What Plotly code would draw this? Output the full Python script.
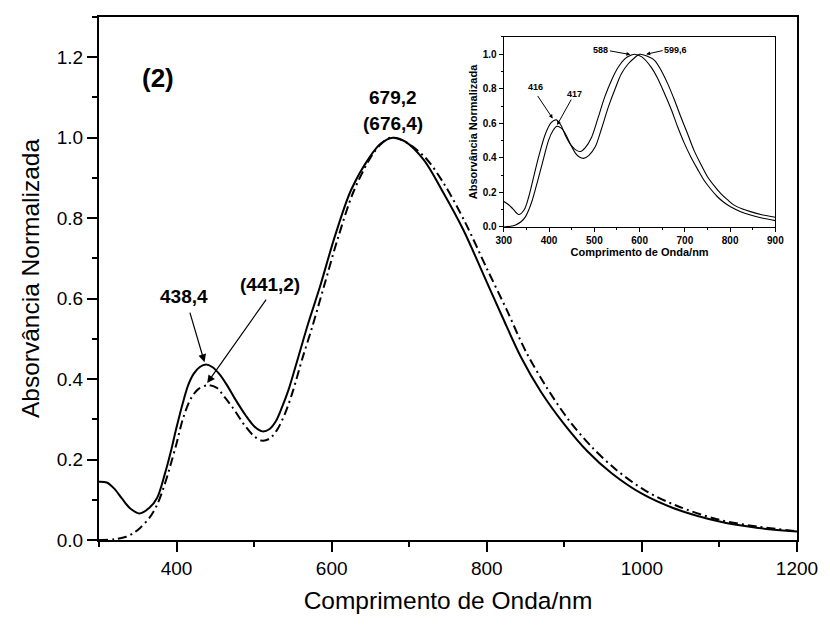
import plotly.graph_objects as go

# ---------------- main plot data ----------------
wl_solid = [300, 310, 320, 330, 340, 352, 365, 375, 385, 392, 400, 408, 415, 422, 430, 438, 446, 455,
            465, 475, 489, 500, 511, 520, 528, 536, 545, 557, 570, 585, 604, 625, 649, 663, 679, 695,
            719, 742, 770, 797, 820, 844, 870, 899, 930, 961, 1000, 1041, 1100, 1150, 1200]
abs_solid = [0.145, 0.143, 0.127, 0.102, 0.079, 0.066, 0.080, 0.105, 0.165, 0.215, 0.280, 0.340, 0.385,
             0.413, 0.430, 0.436, 0.430, 0.413, 0.385, 0.352, 0.310, 0.283, 0.270, 0.276, 0.295, 0.330,
             0.377, 0.455, 0.540, 0.630, 0.754, 0.870, 0.952, 0.985, 1.000, 0.990, 0.944, 0.870, 0.770,
             0.654, 0.555, 0.455, 0.368, 0.290, 0.220, 0.166, 0.115, 0.079, 0.046, 0.030, 0.021]

wl_dash = [300, 320, 335, 345, 353, 365, 375, 385, 392, 400, 408, 418, 428, 441, 452, 462, 472, 489,
           500, 510, 520, 530, 540, 550, 562, 575, 590, 608, 628, 650, 664, 676, 692, 720, 745, 772,
           800, 825, 850, 876, 905, 935, 966, 1005, 1045, 1100, 1150, 1200]
abs_dash = [0.000, 0.002, 0.008, 0.018, 0.030, 0.055, 0.088, 0.140, 0.185, 0.240, 0.300, 0.350, 0.375,
            0.385, 0.378, 0.355, 0.330, 0.282, 0.258, 0.247, 0.252, 0.275, 0.315, 0.370, 0.450, 0.530,
            0.630, 0.750, 0.865, 0.950, 0.985, 1.000, 0.993, 0.952, 0.885, 0.790, 0.675, 0.575, 0.470,
            0.383, 0.300, 0.232, 0.176, 0.122, 0.085, 0.050, 0.033, 0.022]

# ---------------- inset data ----------------
wl_in_a = [300, 310, 320, 333, 345, 355, 365, 377, 392, 405, 416, 426, 436, 448, 458, 469, 480, 494,
           508, 523, 538, 553, 568, 582, 588, 605, 625, 640, 655, 670, 684, 698, 713, 728, 742, 757,
           772, 786, 801, 822, 845, 870, 900]
abs_in_a = [0.148, 0.130, 0.105, 0.072, 0.100, 0.175, 0.280, 0.407, 0.540, 0.605, 0.620, 0.590, 0.530,
            0.475, 0.448, 0.437, 0.460, 0.520, 0.630, 0.753, 0.850, 0.926, 0.975, 0.995, 1.000, 0.985,
            0.927, 0.860, 0.773, 0.680, 0.580, 0.490, 0.407, 0.335, 0.272, 0.220, 0.175, 0.143, 0.117,
            0.090, 0.069, 0.052, 0.037]

wl_in_b = [300, 315, 326, 338, 348, 356, 363, 374, 385, 399, 409, 417, 427, 436, 447, 458, 467, 476,
           488, 502, 516, 531, 546, 560, 575, 589, 600, 616, 633, 648, 662, 677, 691, 706, 720, 735,
           750, 765, 779, 794, 808, 826, 845, 870, 900]
abs_in_b = [0.000, 0.004, 0.012, 0.030, 0.060, 0.105, 0.156, 0.260, 0.368, 0.503, 0.560, 0.583, 0.572,
            0.540, 0.480, 0.428, 0.405, 0.397, 0.415, 0.464, 0.570, 0.695, 0.800, 0.888, 0.945, 0.980,
            1.000, 0.990, 0.965, 0.905, 0.830, 0.735, 0.638, 0.540, 0.445, 0.365, 0.291, 0.238, 0.195,
            0.158, 0.128, 0.106, 0.089, 0.071, 0.056]

FONT = "Arial, 'Liberation Sans', sans-serif"

fig = go.Figure()
fig.add_trace(go.Scatter(x=wl_solid, y=abs_solid, mode="lines",
                         line=dict(color="black", width=2, shape="spline", smoothing=0.9)))
fig.add_trace(go.Scatter(x=wl_dash, y=abs_dash, mode="lines",
                         line=dict(color="black", width=2, shape="spline", smoothing=0.9,
                                   dash="9px,4px,2px,4px")))
fig.add_trace(go.Scatter(x=wl_in_a, y=abs_in_a, mode="lines", xaxis="x2", yaxis="y2",
                         line=dict(color="black", width=1.1, shape="spline", smoothing=0.9)))
fig.add_trace(go.Scatter(x=wl_in_b, y=abs_in_b, mode="lines", xaxis="x2", yaxis="y2",
                         line=dict(color="black", width=1.1, shape="spline", smoothing=0.9)))

axis_common = dict(showgrid=False, zeroline=False, showline=True, mirror=True,
                   linecolor="black", color="black")

fig.update_layout(
    width=830, height=626,
    margin=dict(l=99, r=25, t=17, b=86),
    paper_bgcolor="white", plot_bgcolor="white",
    showlegend=False,
    font=dict(family=FONT, color="black"),
    xaxis=dict(**axis_common, linewidth=2, range=[300, 1200], tick0=400, dtick=200,
               ticks="outside", ticklen=10, tickwidth=1.5, tickcolor="black",
               tickfont=dict(size=19),
               minor=dict(tick0=300, dtick=100, ticks="outside", ticklen=5, tickwidth=1.5,
                          tickcolor="black"),
               title=dict(text="Comprimento de Onda/nm", font=dict(size=24.5), standoff=14)),
    yaxis=dict(**axis_common, linewidth=2, range=[0, 1.3], tick0=0, dtick=0.2, tickformat=".1f",
               ticks="outside", ticklen=10, tickwidth=1.5, tickcolor="black",
               tickfont=dict(size=19),
               minor=dict(tick0=0, dtick=0.1, ticks="outside", ticklen=5, tickwidth=1.5,
                          tickcolor="black"),
               title=dict(text="Absorvância Normalizada", font=dict(size=24.5), standoff=10)),
    xaxis2=dict(**axis_common, linewidth=1.3, domain=[0.580, 0.969], anchor="y2",
                range=[300, 900], tick0=300, dtick=100,
                ticks="outside", ticklen=4, tickwidth=1, tickcolor="black",
                tickfont=dict(size=10, weight="bold"),
                minor=dict(dtick=50, ticks="outside", ticklen=2, tickwidth=1, tickcolor="black"),
                title=dict(text="Comprimento de Onda/nm", font=dict(size=11, weight="bold"),
                           standoff=2)),
    yaxis2=dict(**axis_common, linewidth=1.3, domain=[0.5985, 0.9618], anchor="x2",
                range=[0, 1.1], tick0=0, dtick=0.2, tickformat=".1f",
                ticks="outside", ticklen=4, tickwidth=1, tickcolor="black",
                tickfont=dict(size=10, weight="bold"),
                minor=dict(dtick=0.1, ticks="outside", ticklen=2, tickwidth=1, tickcolor="black"),
                title=dict(text="Absorvância Normalizada", font=dict(size=11, weight="bold"),
                           standoff=2)),
)

# text labels (main)
main_labels = [("(2)", 376, 1.148, 26), ("679,2", 679.2, 1.100, 19), ("(676,4)", 679.2, 1.036, 19),
               ("438,4", 410, 0.605, 19), ("(441,2)", 520, 0.634, 19)]
for txt, x, y, sz in main_labels:
    fig.add_annotation(x=x, y=y, xref="x", yref="y", text=f"<b>{txt}</b>", showarrow=False,
                       font=dict(size=sz, family=FONT, color="black"))

# arrows (main)
main_arrows = [(436, 0.442, -15, -51), (439.5, 0.390, 60, -85)]
for x, y, ax, ay in main_arrows:
    fig.add_annotation(x=x, y=y, xref="x", yref="y", text="", showarrow=True, ax=ax, ay=ay,
                       arrowhead=2, arrowsize=1.3, arrowwidth=1.2, arrowcolor="black")

# inset labels
inset_labels = [("416", 370, 0.808), ("417", 457, 0.769), ("588", 514, 1.027), ("599,6", 680, 1.027)]
for txt, x, y in inset_labels:
    fig.add_annotation(x=x, y=y, xref="x2", yref="y2", text=f"<b>{txt}</b>", showarrow=False,
                       font=dict(size=9, family=FONT, color="black"))

inset_arrows = [(408, 0.628, -16, -24), (417.6, 0.590, 15, -27),
                (579.6, 0.998, -22, -4), (614.6, 1.000, 18, -4)]
for x, y, ax, ay in inset_arrows:
    fig.add_annotation(x=x, y=y, xref="x2", yref="y2", text="", showarrow=True, ax=ax, ay=ay,
                       arrowhead=2, arrowsize=0.8, arrowwidth=1, arrowcolor="black")

fig.write_html("out.html", config={"displayModeBar": False},
               post_script="document.body.style.margin='0';document.body.style.overflow='hidden';")
